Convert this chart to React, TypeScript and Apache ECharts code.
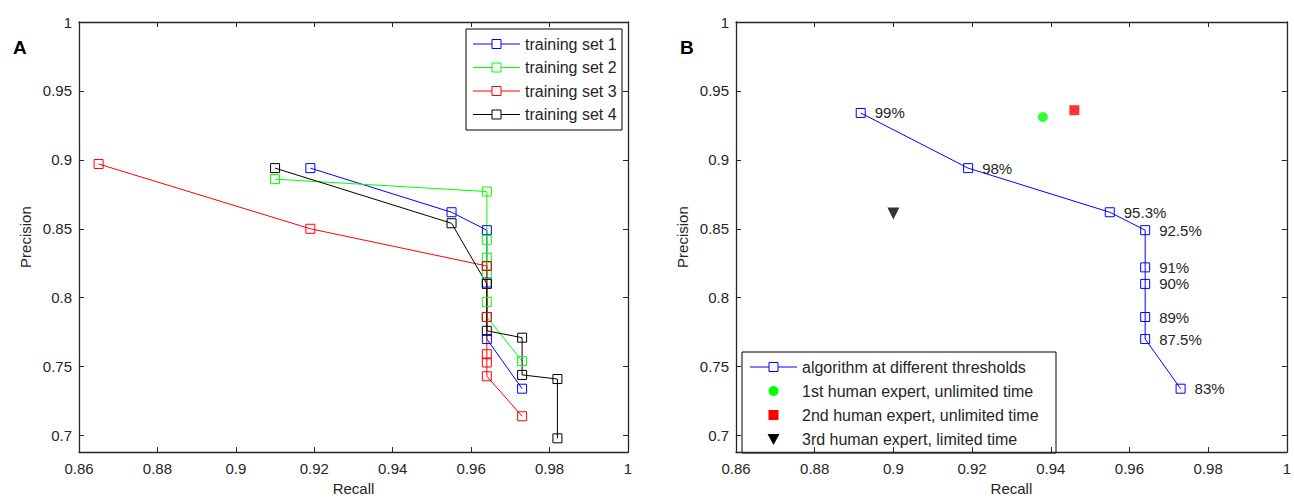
import React, { useEffect, useRef } from "react";
import * as echarts from "echarts";

// ---- data ----
const recallTicks = [0.86, 0.88, 0.9, 0.92, 0.94, 0.96, 0.98, 1];
const precisionTicks = [0.7, 0.75, 0.8, 0.85, 0.9, 0.95, 1];

const seriesNamesA = ["training set 1", "training set 2", "training set 3", "training set 4"];
const set1Recall = [0.919, 0.955, 0.964, 0.964, 0.964, 0.964, 0.964, 0.973];
const set1Precision = [0.894, 0.862, 0.849, 0.823, 0.811, 0.786, 0.77, 0.734];
const set2Recall = [0.91, 0.964, 0.964, 0.964, 0.964, 0.964, 0.964, 0.973];
const set2Precision = [0.886, 0.877, 0.842, 0.829, 0.817, 0.797, 0.786, 0.754];
const set3Recall = [0.865, 0.919, 0.964, 0.964, 0.964, 0.964, 0.964, 0.973];
const set3Precision = [0.897, 0.85, 0.823, 0.786, 0.759, 0.753, 0.743, 0.714];
const set4Recall = [0.91, 0.955, 0.964, 0.964, 0.973, 0.973, 0.982, 0.982];
const set4Precision = [0.894, 0.854, 0.81, 0.776, 0.771, 0.744, 0.741, 0.698];

const seriesNamesB = [
  "algorithm at different thresholds",
  "1st human expert, unlimited time",
  "2nd human expert, unlimited time",
  "3rd human expert, limited time",
];
const algoRecall = [0.8917, 0.919, 0.955, 0.964, 0.964, 0.964, 0.964, 0.964, 0.973];
const algoPrecision = [0.934, 0.894, 0.862, 0.849, 0.822, 0.81, 0.786, 0.77, 0.734];
const algoLabels = ["99%", "98%", "95.3%", "92.5%", "91%", "90%", "89%", "87.5%", "83%"];
const expert1 = [0.938, 0.931];
const expert2 = [0.946, 0.936];
const expert3 = [0.9, 0.861];

const FONT = "'Liberation Sans', Arial, sans-serif";
const TXT = "#262626";
const AX = "#262626";

const fmt = (v: number) => String(+Number(v).toFixed(2));
const pairs = (xs: number[], ys: number[]) => xs.map((x, i) => [x, ys[i]]);

function mkX(gridIndex: number, position: string, labels: boolean) {
  return {
    type: "value",
    gridIndex,
    position,
    min: 0.86,
    max: 1,
    name: labels ? "Recall" : "",
    nameLocation: "middle",
    nameGap: 26,
    nameTextStyle: { fontSize: 15, color: TXT, fontFamily: FONT },
    axisLine: { show: true, onZero: false, lineStyle: { color: AX, width: 1.3 } },
    axisTick: { show: true, inside: true, length: 5, customValues: recallTicks, lineStyle: { color: AX, width: 1 } },
    axisLabel: { show: labels, customValues: recallTicks, formatter: fmt, fontSize: 15, color: TXT, fontFamily: FONT, margin: 9 },
    splitLine: { show: false },
  };
}

function mkY(gridIndex: number, position: string, labels: boolean) {
  return {
    type: "value",
    gridIndex,
    position,
    min: 0.688,
    max: 1,
    name: labels ? "Precision" : "",
    nameLocation: "middle",
    nameRotate: 90,
    nameGap: 46,
    nameTextStyle: { fontSize: 15, color: TXT, fontFamily: FONT },
    axisLine: { show: true, onZero: false, lineStyle: { color: AX, width: 1.3 } },
    axisTick: { show: true, inside: true, length: 5, customValues: precisionTicks, lineStyle: { color: AX, width: 1 } },
    axisLabel: { show: labels, customValues: precisionTicks, formatter: fmt, fontSize: 15, color: TXT, fontFamily: FONT, margin: 7 },
    splitLine: { show: false },
  };
}

function lineSeries(name: string, xs: number[], ys: number[], color: string, xi: number, yi: number, extra: any = {}) {
  return {
    name,
    type: "line",
    xAxisIndex: xi,
    yAxisIndex: yi,
    data: pairs(xs, ys),
    symbol: "rect",
    symbolSize: 9,
    showAllSymbol: true,
    lineStyle: { color, width: 1 },
    itemStyle: { color: "rgba(0,0,0,0)", borderColor: color, borderWidth: 1 },
    emphasis: { disabled: true },
    ...extra,
  };
}

function legendRow(x: number, y: number, kind: string, color: string, text: string) {
  const children: any[] = [];
  if (kind === "line") {
    children.push({ type: "line", shape: { x1: x, y1: y, x2: x + 47, y2: y }, style: { stroke: color, lineWidth: 1 } });
    children.push({ type: "rect", shape: { x: x + 19, y: y - 4.5, width: 9, height: 9 }, style: { fill: "#fff", stroke: color, lineWidth: 1 } });
  } else if (kind === "circle") {
    children.push({ type: "circle", shape: { cx: x + 23.5, cy: y, r: 5 }, style: { fill: color } });
  } else if (kind === "square") {
    children.push({ type: "rect", shape: { x: x + 18.5, y: y - 5, width: 10, height: 10 }, style: { fill: color } });
  } else if (kind === "tri") {
    children.push({ type: "polygon", shape: { points: [[x + 17.5, y - 5], [x + 29.5, y - 5], [x + 23.5, y + 6]] }, style: { fill: color } });
  }
  children.push({
    type: "text",
    x: x + 52,
    y,
    style: { text, fill: TXT, font: `16px ${FONT}`, textVerticalAlign: "middle", verticalAlign: "middle" },
  });
  return children;
}

export default function App() {
  const ref = useRef<HTMLDivElement>(null);
  useEffect(() => {
    document.body.style.margin = "0";
    const chart = echarts.init(ref.current!, undefined, { renderer: "svg" });
    const colorsA = ["#0000ff", "#00ff00", "#ff0000", "#000000"];
    const rowsA = [44, 67.5, 91, 114.5];
    const rowsB = [367, 391, 415, 439];
    const legendA: any[] = [
      { type: "rect", shape: { x: 466, y: 29, width: 156, height: 101 }, style: { fill: "#fff", stroke: "#000", lineWidth: 1 } },
    ];
    seriesNamesA.forEach((n, i) => legendA.push(...legendRow(473, rowsA[i], "line", colorsA[i], n)));
    const legendB: any[] = [
      { type: "rect", shape: { x: 742, y: 352, width: 314, height: 101 }, style: { fill: "#fff", stroke: "#000", lineWidth: 1 } },
    ];
    legendB.push(...legendRow(750, rowsB[0], "line", "#0000ff", seriesNamesB[0]));
    legendB.push(...legendRow(750, rowsB[1], "circle", "#00ff00", seriesNamesB[1]));
    legendB.push(...legendRow(750, rowsB[2], "square", "#ff0000", seriesNamesB[2]));
    legendB.push(...legendRow(750, rowsB[3], "tri", "#000000", seriesNamesB[3]));

    const option: any = {
      animation: false,
      backgroundColor: "#fff",
      textStyle: { fontFamily: FONT },
      grid: [
        { left: 79, top: 22, width: 549, height: 437 },
        { left: 736, top: 22, width: 553, height: 437 },
      ],
      xAxis: [mkX(0, "bottom", true), mkX(0, "top", false), mkX(1, "bottom", true), mkX(1, "top", false)],
      yAxis: [mkY(0, "left", true), mkY(0, "right", false), mkY(1, "left", true), mkY(1, "right", false)],
      series: [
        lineSeries(seriesNamesA[0], set1Recall, set1Precision, colorsA[0], 0, 0),
        lineSeries(seriesNamesA[1], set2Recall, set2Precision, colorsA[1], 0, 0),
        lineSeries(seriesNamesA[2], set3Recall, set3Precision, colorsA[2], 0, 0),
        lineSeries(seriesNamesA[3], set4Recall, set4Precision, colorsA[3], 0, 0),
        lineSeries(seriesNamesB[0], algoRecall, algoPrecision, "#0000ff", 2, 2, {
          label: {
            show: true,
            position: "right",
            distance: 9,
            formatter: (p: any) => algoLabels[p.dataIndex],
            fontSize: 15,
            color: TXT,
            fontFamily: FONT,
          },
        }),
        {
          name: seriesNamesB[1], type: "scatter", xAxisIndex: 2, yAxisIndex: 2,
          data: [expert1], symbol: "circle", symbolSize: 10, itemStyle: { color: "#00ff00" },
        },
        {
          name: seriesNamesB[2], type: "scatter", xAxisIndex: 2, yAxisIndex: 2,
          data: [expert2], symbol: "rect", symbolSize: 10, itemStyle: { color: "#ff0000" },
        },
        {
          name: seriesNamesB[3], type: "scatter", xAxisIndex: 2, yAxisIndex: 2,
          data: [expert3], symbol: "triangle", symbolRotate: 180, symbolSize: 12, itemStyle: { color: "#000000" },
        },
      ],
      graphic: [
        { type: "text", x: 13, y: 38, style: { text: "A", fill: "#000", font: `bold 19px ${FONT}` } },
        { type: "text", x: 680, y: 38, style: { text: "B", fill: "#000", font: `bold 19px ${FONT}` } },
        { type: "group", z: 100, children: legendA },
        { type: "group", z: 100, children: legendB },
      ],
    };
    chart.setOption(option);
    return () => chart.dispose();
  }, []);
  return <div ref={ref} style={{ width: 1294, height: 501 }} />;
}
